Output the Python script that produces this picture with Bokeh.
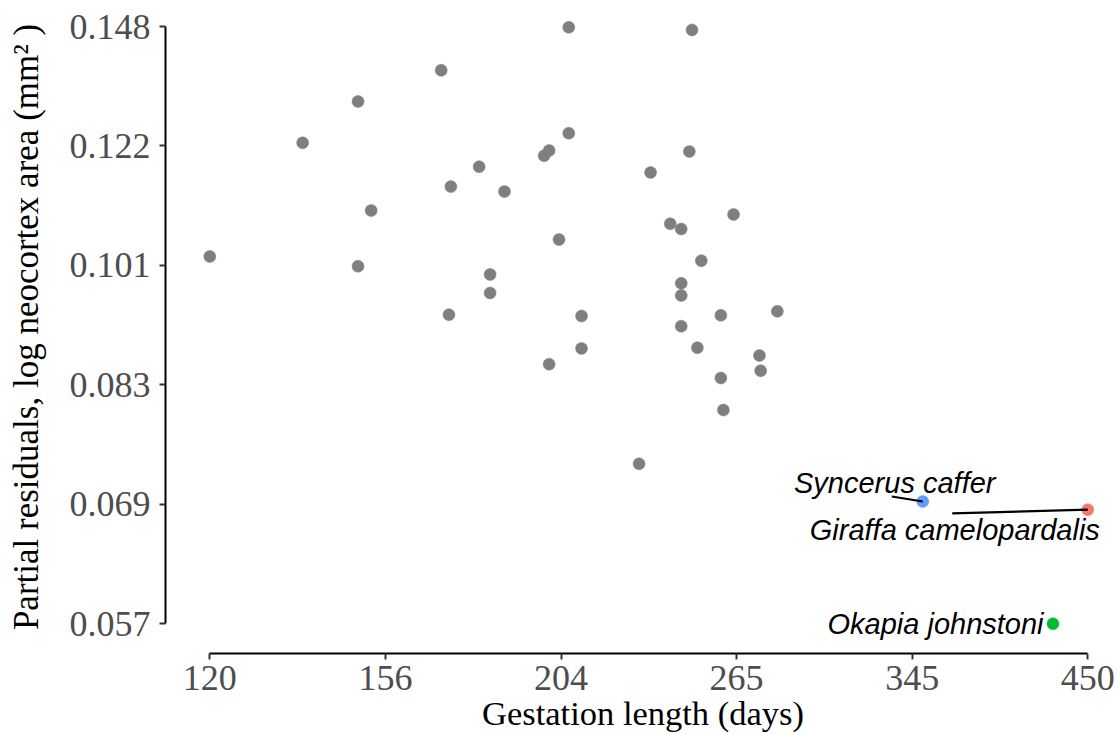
import math
from bokeh.plotting import figure
from bokeh.models import ColumnDataSource, FixedTicker, Range1d
from bokeh.core.properties import value
from bokeh.embed import file_html
from bokeh.resources import INLINE

# ---------------- data ----------------
gest_days = [120, 138, 150, 150, 153, 170, 172, 172.5, 180, 183, 183, 187,
             198.5, 200, 200, 203, 206, 206, 210, 210, 229, 233, 240, 244,
             244, 244, 244, 247, 248, 250, 251.5, 259, 259, 260, 264, 274.5,
             275, 282]
resid_area = [0.1025, 0.1229, 0.1313, 0.1009, 0.1103, 0.1380, 0.0934, 0.1146,
              0.1183, 0.0996, 0.0967, 0.1137, 0.1204, 0.1214, 0.0863, 0.1053,
              0.1478, 0.1248, 0.0932, 0.0885, 0.0736, 0.1172, 0.1080, 0.1071,
              0.0982, 0.0963, 0.0917, 0.1212, 0.1472, 0.0886, 0.1018, 0.0933,
              0.0844, 0.0802, 0.1096, 0.0875, 0.0854, 0.0939]

hl_species = ["Giraffa camelopardalis", "Okapia johnstoni", "Syncerus caffer"]
hl_days = [450, 427, 351]
hl_resid = [0.0684, 0.057, 0.0693]
hl_colors = ["#F8766D", "#00BA38", "#619CFF"]

x_ticks = [120, 156.31, 203.61, 265.22, 345.47, 450]
x_tick_labels = ["120", "156", "204", "265", "345", "450"]
y_ticks = [0.057, 0.068985, 0.08349, 0.101045, 0.122292, 0.148]
y_tick_labels = ["0.057", "0.069", "0.083", "0.101", "0.122", "0.148"]

x_title = "Gestation length (days)"
y_title = "Partial residuals, log neocortex area (mm\u00b2 )"

# ---------------- layout ----------------
W, H = 1120, 734
left, right, top, bottom = 165, 0, 0, 81
frame_w = W - left - right
frame_h = H - top - bottom

x_start, x_end = 112.26, 472.7
y_start, y_end = 0.054358, 0.15428
kx = math.log(x_end / x_start) / frame_w
ky = math.log(y_end / y_start) / frame_h

p = figure(width=W, height=H, x_axis_type="log", y_axis_type="log",
           x_range=Range1d(x_start, x_end), y_range=Range1d(y_start, y_end),
           output_backend="svg", toolbar_location=None,
           min_border_left=left, min_border_right=right,
           min_border_top=top, min_border_bottom=bottom)
p.outline_line_color = None
p.xgrid.grid_line_color = None
p.ygrid.grid_line_color = None
p.background_fill_color = "white"
p.border_fill_color = "white"

serif = "Liberation Serif"
for ax in (p.xaxis[0], p.yaxis[0]):
    ax.axis_line_color = "black"
    ax.axis_line_width = 2
    ax.major_tick_line_color = "#333333"
    ax.major_tick_line_width = 2
    ax.major_tick_out = 6
    ax.major_tick_in = 0
    ax.minor_tick_line_color = None
    ax.major_label_text_font = serif
    ax.major_label_text_font_size = "36px"
    ax.major_label_text_color = "#4D4D4D"
    ax.axis_label_text_font = serif
    ax.axis_label_text_font_style = "normal"
    ax.axis_label_text_color = "black"

p.xaxis.ticker = FixedTicker(ticks=x_ticks)
p.yaxis.ticker = FixedTicker(ticks=y_ticks)
p.xaxis.major_label_overrides = {t: l for t, l in zip(x_ticks, x_tick_labels)}
p.yaxis.major_label_overrides = {t: l for t, l in zip(y_ticks, y_tick_labels)}
p.xaxis.bounds = (x_ticks[0], x_ticks[-1])
p.yaxis.bounds = (y_ticks[0], y_ticks[-1])

p.xaxis.axis_label = x_title
p.yaxis.axis_label = y_title
p.xaxis.axis_label_text_font_size = "34.5px"
p.yaxis.axis_label_text_font_size = "35px"
p.xaxis.major_label_standoff = 6
p.xaxis.axis_label_standoff = 1
p.yaxis.major_label_standoff = 9
p.yaxis.axis_label_standoff = 21

# ---------------- points ----------------
src = ColumnDataSource(dict(x=gest_days, y=resid_area))
p.scatter("x", "y", source=src, size=12, marker="circle",
          fill_color="#7F7F7F", line_color="#7F7F7F", line_width=0.5)

hsrc = ColumnDataSource(dict(x=hl_days, y=hl_resid, c=hl_colors, name=hl_species))
p.scatter("x", "y", source=hsrc, size=12, marker="circle",
          fill_color="c", line_color="c", line_width=0.5)

# ---------------- repel-style labels ----------------
# pixel offsets of the label relative to its point (dx, dy, align, segment start dx, dy)
lab_style = {
    "Syncerus caffer": (-28, -18.7, "center", (-31, -5)),
    "Giraffa camelopardalis": (-133, 20, "center", (-135.6, 3.7)),
    "Okapia johnstoni": (-9.4, 0, "right", None),
}

for name, xv, yv in zip(hl_species, hl_days, hl_resid):
    dx, dy, align, seg = lab_style[name]
    if seg is not None:
        sx = xv * math.exp(seg[0] * kx)
        sy = yv * math.exp(-seg[1] * ky)
        p.segment(x0=[sx], y0=[sy], x1=[xv], y1=[yv], line_color="black", line_width=2.2)
    p.text(x=[xv], y=[yv], text=[name], x_offset=dx, y_offset=dy,
           text_font=value("Liberation Sans"), text_font_style="italic",
           text_font_size=value("29px"), text_color="black",
           text_align=align, text_baseline="alphabetic")

open("out.html", "w").write(file_html(p, INLINE))
